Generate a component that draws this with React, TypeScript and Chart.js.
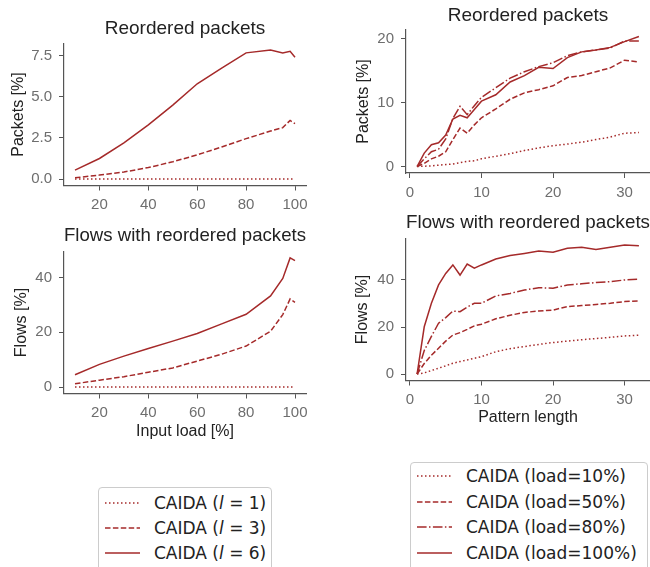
import React, { useEffect, useRef } from 'react';
import { Chart, registerables } from 'chart.js';

Chart.register(...registerables);

// ---------- data ----------
const loads = [10, 20, 30, 40, 50, 60, 70, 80, 90, 95, 98, 100];
const pktL1 = [0, 0, 0, 0, 0, 0, 0, 0, 0, 0, 0, 0];
const pktL3 = [0.08, 0.24, 0.43, 0.7, 1.05, 1.47, 1.95, 2.46, 2.92, 3.13, 3.57, 3.37];
const pktL6 = [0.54, 1.25, 2.2, 3.3, 4.5, 5.8, 6.75, 7.68, 7.86, 7.68, 7.78, 7.41];
const flowL1 = [0, 0, 0, 0, 0, 0, 0, 0, 0, 0, 0, 0];
const flowL3 = [1.2, 2.5, 3.8, 5.4, 7.0, 9.5, 12.0, 15.0, 20.4, 26.5, 32.2, 31.0];
const flowL6 = [4.5, 8.3, 11.3, 14.1, 16.8, 19.6, 23.1, 26.6, 33.3, 39.7, 47.2, 46.2];

const patternLen = [1, 2, 3, 4, 5, 6, 7, 8, 9, 10, 12, 14, 16, 18, 20, 22, 24, 26, 28, 30, 32];
const pktLoad10 = [0, 0.05, 0.1, 0.2, 0.3, 0.4, 0.6, 0.8, 0.9, 1.2, 1.6, 2.0, 2.5, 2.9, 3.25, 3.5, 3.8, 4.2, 4.6, 5.2, 5.3];
const pktLoad50 = [0, 0.5, 1.2, 1.6, 2.3, 4.2, 6.0, 5.2, 6.5, 7.6, 9.0, 10.5, 11.5, 12.0, 12.6, 13.9, 14.2, 14.8, 15.4, 16.6, 16.3];
const pktLoad80 = [0, 1.2, 2.3, 2.7, 4.3, 7.5, 9.4, 8.1, 9.5, 10.8, 12.3, 13.8, 14.8, 15.6, 16.2, 17.3, 17.9, 18.2, 18.5, 19.6, 19.6];
const pktLoad100 = [0, 2.1, 3.4, 3.7, 4.9, 7.4, 8.0, 7.6, 8.9, 10.2, 11.2, 13.2, 14.2, 15.5, 15.3, 17.0, 17.9, 18.2, 18.6, 19.5, 20.3];
const flowLoad10 = [0, 0.5, 1.5, 2.5, 3.5, 4.6, 5.3, 6.0, 6.7, 7.4, 9.5, 10.8, 11.7, 12.6, 13.4, 14.0, 14.6, 15.1, 15.6, 16.2, 16.5];
const flowLoad50 = [0, 4.5, 8, 11, 14, 16.6, 17.6, 19, 20.5, 21.2, 23.5, 25.0, 26.2, 26.8, 27.2, 28.7, 29.1, 29.6, 30.1, 30.8, 31.1];
const flowLoad80 = [0, 10, 16, 21.6, 24, 26.8, 26.5, 28.5, 30.1, 30.1, 33.2, 34.3, 35.7, 36.7, 36.5, 37.9, 38.4, 38.9, 39.3, 40.0, 40.3];
const flowLoad100 = [0, 20.1, 30.1, 37.9, 42.8, 46.4, 42.1, 46.8, 45.0, 46.4, 48.9, 50.4, 51.3, 52.3, 51.8, 53.5, 53.9, 53.0, 53.9, 54.9, 54.6];

const loadTicks = [20, 40, 60, 80, 100];
const patternTicks = [0, 10, 20, 30];
const pktLoadTicks = [0, 2.5, 5, 7.5];
const flowLoadTicks = [0, 20, 40];
const pktPatternTicks = [0, 10, 20];
const flowPatternTicks = [0, 20, 40];

const legendLeft = ['CAIDA (', '= 1)', '= 3)', '= 6)'];
const legendRight = ['CAIDA (load=10%)', 'CAIDA (load=50%)', 'CAIDA (load=80%)', 'CAIDA (load=100%)'];

// ---------- styles ----------
const RED = '#a52a2a';
const DOT = [1.5, 2.5];
const DASH = [5.5, 2.4];
const DASHDOT = [9.6, 2.4, 1.5, 2.4];
const SOLID: number[] = [];
const AXIS_FONT = "'Liberation Sans', Arial, sans-serif";
const AXIS_COLOR = '#555555';
const TICK_COLOR = '#6e6e6e';
const TEXT_COLOR = '#222222';

type Series = { data: number[]; dash: number[] };
type Spec = {
  left: number; top: number; width: number; height: number;
  padRight: number; padBottom: number;
  title: string; titlePadTop: number; titlePadBottom: number;
  yTitle: string; yTitlePad: number; yWidth: number;
  xTitle?: string; xTitlePad?: number; xHeight: number;
  xs: number[]; xMin: number; xMax: number; xTicks: number[];
  yMin: number; yMax: number; yTicks: number[]; yFmt: (v: number) => string;
  series: Series[];
};

const specs: Spec[] = [
  {
    left: 0, top: 0, width: 330, height: 215, padRight: 24, padBottom: 4,
    title: 'Reordered packets', titlePadTop: 17.6, titlePadBottom: 3.1,
    yTitle: 'Packets [%]', yTitlePad: 8.7, yWidth: 64,
    xHeight: 25.5,
    xs: loads, xMin: 5.5, xMax: 104.5, xTicks: loadTicks,
    yMin: -0.393, yMax: 8.25, yTicks: pktLoadTicks, yFmt: (v) => v.toFixed(1),
    series: [
      { data: pktL1, dash: DOT },
      { data: pktL3, dash: DASH },
      { data: pktL6, dash: SOLID },
    ],
  },
  {
    left: 0, top: 215, width: 330, height: 235, padRight: 24, padBottom: 0,
    title: 'Flows with reordered packets', titlePadTop: 9.8, titlePadBottom: 3.9,
    yTitle: 'Flows [%]', yTitlePad: 11.9, yWidth: 64,
    xTitle: 'Input load [%]', xTitlePad: 8.4, xHeight: 56.5,
    xs: loads, xMin: 5.5, xMax: 104.5, xTicks: loadTicks,
    yMin: -2.36, yMax: 49.56, yTicks: flowLoadTicks, yFmt: (v) => String(v),
    series: [
      { data: flowL1, dash: DOT },
      { data: flowL3, dash: DASH },
      { data: flowL6, dash: SOLID },
    ],
  },
  {
    left: 330, top: 0, width: 330, height: 200, padRight: 10, padBottom: 2,
    title: 'Reordered packets', titlePadTop: 4.8, titlePadBottom: 2.4,
    yTitle: 'Packets [%]', yTitlePad: 23.7, yWidth: 76,
    xHeight: 25,
    xs: patternLen, xMin: -0.55, xMax: 33.55, xTicks: patternTicks,
    yMin: -1.015, yMax: 21.315, yTicks: pktPatternTicks, yFmt: (v) => String(v),
    series: [
      { data: pktLoad10, dash: DOT },
      { data: pktLoad50, dash: DASH },
      { data: pktLoad80, dash: DASHDOT },
      { data: pktLoad100, dash: SOLID },
    ],
  },
  {
    left: 330, top: 200, width: 330, height: 240, padRight: 10, padBottom: 0,
    title: 'Flows with reordered packets', titlePadTop: 11.6, titlePadBottom: 4.1,
    yTitle: 'Flows [%]', yTitlePad: 23.4, yWidth: 76,
    xTitle: 'Pattern length', xTitlePad: 12.4, xHeight: 59.5,
    xs: patternLen, xMin: -0.55, xMax: 33.55, xTicks: patternTicks,
    yMin: -2.745, yMax: 57.645, yTicks: flowPatternTicks, yFmt: (v) => String(v),
    series: [
      { data: flowLoad10, dash: DOT },
      { data: flowLoad50, dash: DASH },
      { data: flowLoad80, dash: DASHDOT },
      { data: flowLoad100, dash: SOLID },
    ],
  },
];

function makeConfig(s: Spec): any {
  return {
    type: 'line',
    data: {
      datasets: s.series.map((ser) => ({
        data: s.xs.map((x, i) => ({ x, y: ser.data[i] })),
        borderColor: RED,
        backgroundColor: RED,
        borderWidth: 1.5,
        borderDash: ser.dash,
        pointRadius: 0,
        tension: 0,
        fill: false,
      })),
    },
    options: {
      responsive: false,
      maintainAspectRatio: false,
      animation: false,
      devicePixelRatio: 1,
      layout: { padding: { left: 0, top: 0, right: s.padRight, bottom: s.padBottom } },
      plugins: {
        legend: { display: false },
        tooltip: { enabled: false },
        title: {
          display: true,
          text: s.title,
          fullSize: false,
          color: TEXT_COLOR,
          font: { family: AXIS_FONT, size: 19, weight: 'normal', lineHeight: 1.2 },
          padding: { top: s.titlePadTop, bottom: s.titlePadBottom },
        },
      },
      scales: {
        x: {
          type: 'linear',
          min: s.xMin,
          max: s.xMax,
          afterBuildTicks: (sc: any) => { sc.ticks = s.xTicks.map((v) => ({ value: v })); },
          afterFit: (sc: any) => { sc.height = s.xHeight; },
          ticks: {
            color: TICK_COLOR,
            font: { family: AXIS_FONT, size: 15 },
            padding: 5.5,
            maxRotation: 0,
            autoSkip: false,
            callback: (v: number) => String(v),
          },
          grid: { display: true, drawOnChartArea: false, drawTicks: true, tickLength: 5, tickColor: AXIS_COLOR, tickWidth: 1 },
          border: { display: true, color: AXIS_COLOR, width: 1.2 },
          title: s.xTitle
            ? {
                display: true,
                text: s.xTitle,
                color: TEXT_COLOR,
                font: { family: AXIS_FONT, size: 16, lineHeight: 1.2 },
                padding: { top: 0, bottom: s.xTitlePad },
              }
            : { display: false },
        },
        y: {
          type: 'linear',
          min: s.yMin,
          max: s.yMax,
          afterBuildTicks: (sc: any) => { sc.ticks = s.yTicks.map((v) => ({ value: v })); },
          afterFit: (sc: any) => { sc.width = s.yWidth; },
          ticks: {
            color: TICK_COLOR,
            font: { family: AXIS_FONT, size: 15 },
            padding: 7,
            autoSkip: false,
            callback: (v: number) => s.yFmt(v),
          },
          grid: { display: true, drawOnChartArea: false, drawTicks: true, tickLength: 5, tickColor: AXIS_COLOR, tickWidth: 1 },
          border: { display: true, color: AXIS_COLOR, width: 1.2 },
          title: {
            display: true,
            text: s.yTitle,
            color: TEXT_COLOR,
            font: { family: AXIS_FONT, size: 16, lineHeight: 1.2 },
            padding: { top: s.yTitlePad, bottom: 0 },
          },
        },
      },
    },
  };
}

function ChartPanel({ spec }: { spec: Spec }) {
  const ref = useRef<HTMLCanvasElement | null>(null);
  useEffect(() => {
    if (!ref.current) return;
    const chart = new Chart(ref.current, makeConfig(spec));
    return () => chart.destroy();
  }, [spec]);
  return (
    <canvas
      ref={ref}
      width={spec.width}
      height={spec.height}
      style={{ position: 'absolute', left: spec.left, top: spec.top, width: spec.width, height: spec.height }}
    />
  );
}

function LegendLine({ dash }: { dash: number[] }) {
  return (
    <svg width={36} height={10} style={{ display: 'block' }}>
      <line x1={0} y1={5} x2={35} y2={5} stroke={RED} strokeWidth={1.5}
        strokeDasharray={dash.length ? dash.join(' ') : undefined} />
    </svg>
  );
}

const LEGEND_FONT = "'DejaVu Sans', sans-serif";

function LeftLegend() {
  const dashes = [DOT, DASH, SOLID];
  const vals = [legendLeft[1], legendLeft[2], legendLeft[3]];
  return (
    <div style={{
      position: 'absolute', left: 98, top: 487, width: 174, height: 100,
      border: '1px solid #cccccc', borderRadius: 4, background: '#fff', boxSizing: 'border-box',
    }}>
      {vals.map((v, i) => (
        <div key={i} style={{ position: 'absolute', left: 6, top: 2 + i * 25.2, height: 25, display: 'flex', alignItems: 'center' }}>
          <LegendLine dash={dashes[i]} />
          <span style={{ marginLeft: 13, fontFamily: LEGEND_FONT, fontSize: 17, color: TEXT_COLOR, whiteSpace: 'pre' }}>
            {legendLeft[0]}<i>l</i> {v}
          </span>
        </div>
      ))}
    </div>
  );
}

function RightLegend() {
  const dashes = [DOT, DASH, DASHDOT, SOLID];
  return (
    <div style={{
      position: 'absolute', left: 410, top: 462, width: 238, height: 130,
      border: '1px solid #cccccc', borderRadius: 4, background: '#fff', boxSizing: 'border-box',
    }}>
      {legendRight.map((t, i) => (
        <div key={i} style={{ position: 'absolute', left: 6, top: 0.5 + i * 25.7, height: 25, display: 'flex', alignItems: 'center' }}>
          <LegendLine dash={dashes[i]} />
          <span style={{ marginLeft: 13, fontFamily: LEGEND_FONT, fontSize: 17, color: TEXT_COLOR, whiteSpace: 'pre' }}>{t}</span>
        </div>
      ))}
    </div>
  );
}

export default function App() {
  return (
    <div style={{ position: 'absolute', left: 0, top: 0, width: 650, height: 567, overflow: 'hidden', background: '#fff' }}>
      {specs.map((s, i) => <ChartPanel key={i} spec={s} />)}
      <LeftLegend />
      <RightLegend />
    </div>
  );
}
